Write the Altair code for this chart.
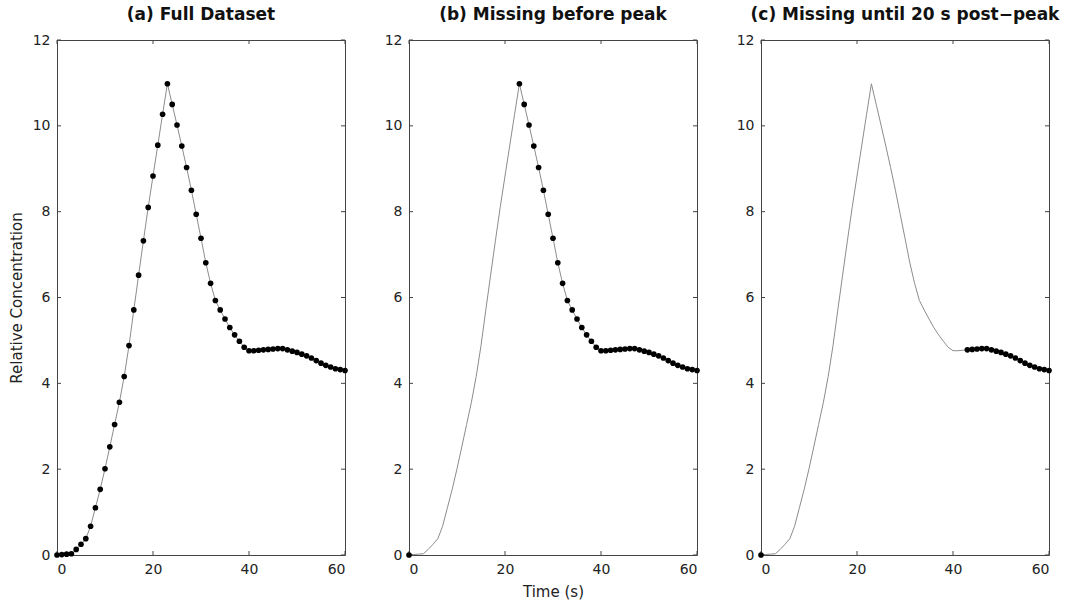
import altair as alt
import pandas as pd

# ---- data ----
time_s = list(range(0, 61))
concentration = [
    0.00, 0.01, 0.02, 0.03, 0.13, 0.25, 0.38, 0.67, 1.10, 1.53,
    2.01, 2.52, 3.04, 3.56, 4.16, 4.88, 5.71, 6.52, 7.32, 8.10,
    8.83, 9.55, 10.27, 10.98, 10.50, 10.02, 9.53, 9.03, 8.50, 7.94,
    7.38, 6.81, 6.33, 5.93, 5.71, 5.50, 5.30, 5.13, 4.98, 4.84,
    4.76, 4.76, 4.77, 4.78, 4.79, 4.80, 4.81, 4.81, 4.78, 4.75,
    4.72, 4.68, 4.64, 4.59, 4.53, 4.47, 4.42, 4.38, 4.34, 4.32,
    4.30,
]
panel_titles = ["(a) Full Dataset", "(b) Missing before peak", "(c) Missing until 20 s post\u2212peak"]
# first observed time after the missing gap (0 is always observed)
first_observed_after_gap = [1, 23, 43]
x_ticks = [0, 20, 40, 60]
y_ticks = [0, 2, 4, 6, 8, 10, 12]

W, H = 288, 515
FONT = "DejaVu Sans"

df = pd.DataFrame({"t": time_s, "c": concentration})
xt = pd.DataFrame({"t": x_ticks})
yt = pd.DataFrame({"c": y_ticks})

xscale = alt.Scale(domain=[0, 60], nice=False, zero=False)
yscale = alt.Scale(domain=[0, 12], nice=False, zero=False)


def panel(i):
    start = first_observed_after_gap[i]
    obs = df[(df["t"] == 0) | (df["t"] >= start)]
    x_axis = alt.Axis(values=x_ticks, title="Time (s)" if i == 1 else None)
    y_axis = alt.Axis(values=y_ticks, title="Relative Concentration" if i == 0 else None)

    line = alt.Chart(df).mark_line(color="#8c8c8c", strokeWidth=1).encode(
        x=alt.X("t:Q", scale=xscale, axis=x_axis),
        y=alt.Y("c:Q", scale=yscale, axis=y_axis),
    )
    pts = alt.Chart(obs).mark_point(filled=True, color="black", size=32, opacity=1).encode(
        x=alt.X("t:Q", scale=xscale),
        y=alt.Y("c:Q", scale=yscale),
    )
    tb = alt.Chart(xt).mark_rule(color="#444", strokeWidth=1).encode(
        x=alt.X("t:Q", scale=xscale), y=alt.value(H), y2=alt.value(H - 4))
    tt = alt.Chart(xt).mark_rule(color="#444", strokeWidth=1).encode(
        x=alt.X("t:Q", scale=xscale), y=alt.value(0), y2=alt.value(4))
    tl = alt.Chart(yt).mark_rule(color="#444", strokeWidth=1).encode(
        y=alt.Y("c:Q", scale=yscale), x=alt.value(0), x2=alt.value(4))
    tr = alt.Chart(yt).mark_rule(color="#444", strokeWidth=1).encode(
        y=alt.Y("c:Q", scale=yscale), x=alt.value(W), x2=alt.value(W - 4))

    return alt.layer(line, tb, tt, tl, tr, pts).properties(
        width=W, height=H,
        title=alt.TitleParams(panel_titles[i], font=FONT, fontSize=17,
                              fontWeight="bold", color="#111", offset=9),
    )


chart = alt.hconcat(panel(0), panel(1), panel(2), spacing=64, bounds="flush").configure_view(
    stroke="#444", strokeWidth=1
).configure_axis(
    domain=False, ticks=False, grid=False,
    labelFont=FONT, labelFontSize=14, labelColor="#222", labelPadding=7,
    titleFont=FONT, titleFontSize=15, titleFontWeight="normal", titleColor="#222",
).configure_axisY(titlePadding=8).configure_axisX(titlePadding=8).properties(
    padding={"left": 8, "top": 5, "right": 5, "bottom": 5}
)

chart.save("out.html", embed_options={"renderer": "svg", "actions": False})
